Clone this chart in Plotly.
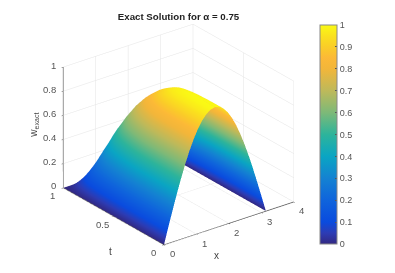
import numpy as np
import plotly.graph_objects as go

title_text = "Exact Solution for α = 0.75"
x_vals = [0,.131,.262,.393,.524,.654,.785,.916,1.047,1.178,1.309,1.44,1.571,1.702,1.833,1.963,2.094,2.225,2.356,2.487,2.618,2.749,2.88,3.011,3.142]
x_profile = [0,.1305,.2588,.3827,.5,.6088,.7071,.7934,.866,.9239,.9659,.9914,1,.9914,.9659,.9239,.866,.7934,.7071,.6088,.5,.3827,.2588,.1305,0]
t_vals = [0,.05,.1,.15,.2,.25,.3,.35,.4,.45,.5,.55,.6,.65,.7,.75,.8,.85,.9,.95,1]
t_profile = [1,1,1,.9995,.998,.996,.992,.985,.972,.95,.92,.884,.84,.79,.73,.655,.565,.445,.3,.15,0]
x_ticks = [0,1,2,3,4]
t_ticks = [0,.5,1]
z_ticks = [0,.2,.4,.6,.8,1]
c_ticks = [0,.1,.2,.3,.4,.5,.6,.7,.8,.9,1]
color_stops = [0,.05,.1,.2,.3,.4,.5,.6,.7,.8,.85,.9,.95,1]
color_values = ["rgb(50,40,130)","rgb(45,60,180)","rgb(10,75,222)","rgb(15,100,220)","rgb(20,130,210)",
                "rgb(10,165,195)","rgb(45,180,155)","rgb(125,185,120)","rgb(190,185,90)","rgb(242,182,58)",
                "rgb(252,185,55)","rgb(250,205,40)","rgb(250,225,30)","rgb(250,250,20)"]

w = np.outer(t_profile, x_profile)
FONT = "Liberation Sans"
GRAY = "#555555"
TXT = dict(size=9.5, color="#555555", family=FONT)

def axis(ticks, rng):
    return dict(title=dict(text=""), range=rng, tickvals=ticks, showticklabels=False,
                showgrid=True, gridcolor="#e4e4e4", gridwidth=1,
                showline=True, linecolor=GRAY, linewidth=1.5,
                ticks="outside", ticklen=2, tickcolor=GRAY,
                zeroline=False, showbackground=False, showspikes=False)

def label(text, x, y, z, dx, dy, **kw):
    return dict(text=text, x=x, y=y, z=z, xshift=dx, yshift=dy, showarrow=False,
                font=kw.pop("font", TXT), **kw)

notes = []
notes += [label(f"{v:g}", v, 0, 0, 8, -9) for v in x_ticks]
notes += [label(f"{v:g}", 0, v, 0, -11, -8) for v in t_ticks]
notes += [label(f"{v:g}", 0, 1, v, -5, 2, xanchor="right") for v in z_ticks]
AX = dict(size=10, color="#444444", family=FONT)
notes += [label("x", 2, 0, 0, -12, -32, font=AX),
          label("t", 0, .5, 0, -3.5, -35, font=AX),
          label("w<sub>exact</sub>", 0, 1, .5, -29, 2, font=AX, textangle=-90)]

fig = go.Figure(go.Surface(
    x=x_vals, y=t_vals, z=w, cmin=0, cmax=1,
    colorscale=[[s, c] for s, c in zip(color_stops, color_values)],
    lighting=dict(ambient=1, diffuse=0, specular=0, roughness=1, fresnel=0),
    contours=dict(x=dict(highlight=False), y=dict(highlight=False), z=dict(highlight=False)),
    colorbar=dict(thickness=17, thicknessmode="pixels", len=219, lenmode="pixels",
                  x=320/395, xanchor="left", xpad=0, y=1-25/273, yanchor="top", ypad=0,
                  tickvals=c_ticks, ticktext=[f"{v:g}" for v in c_ticks],
                  tickfont=dict(size=9, color="#555555", family=FONT),
                  ticks="inside", ticklen=2, tickcolor="#555555",
                  outlinecolor="#888888", outlinewidth=1),
))
fig.update_layout(
    width=395, height=273, margin=dict(l=0, r=0, t=0, b=0),
    paper_bgcolor="white",
    title=dict(text=title_text, x=178.5/395, xanchor="center", y=1-17/273, yanchor="middle",
               font=dict(size=9.7, color="#222222", family=FONT, weight="bold")),
    scene=dict(
        domain=dict(x=[0, 357/395], y=[1-269/273, 1]),
        xaxis=axis(x_ticks, [0, 4]),
        yaxis=axis(t_ticks, [0, 1]),
        zaxis=axis(z_ticks, [0, 1]),
        annotations=notes,
        aspectmode="manual", aspectratio=dict(x=1.215, y=1.234, z=.996),
        camera=dict(projection=dict(type="orthographic"),
                    center=dict(x=0, y=0, z=0), up=dict(x=0, y=0, z=1),
                    eye=dict(x=-.5475*1.66, y=-.716*1.66, z=.432*1.66)),
    ),
)
fig.write_html("out.html", post_script="document.body.style.margin='0';", config=dict(displayModeBar=False))
